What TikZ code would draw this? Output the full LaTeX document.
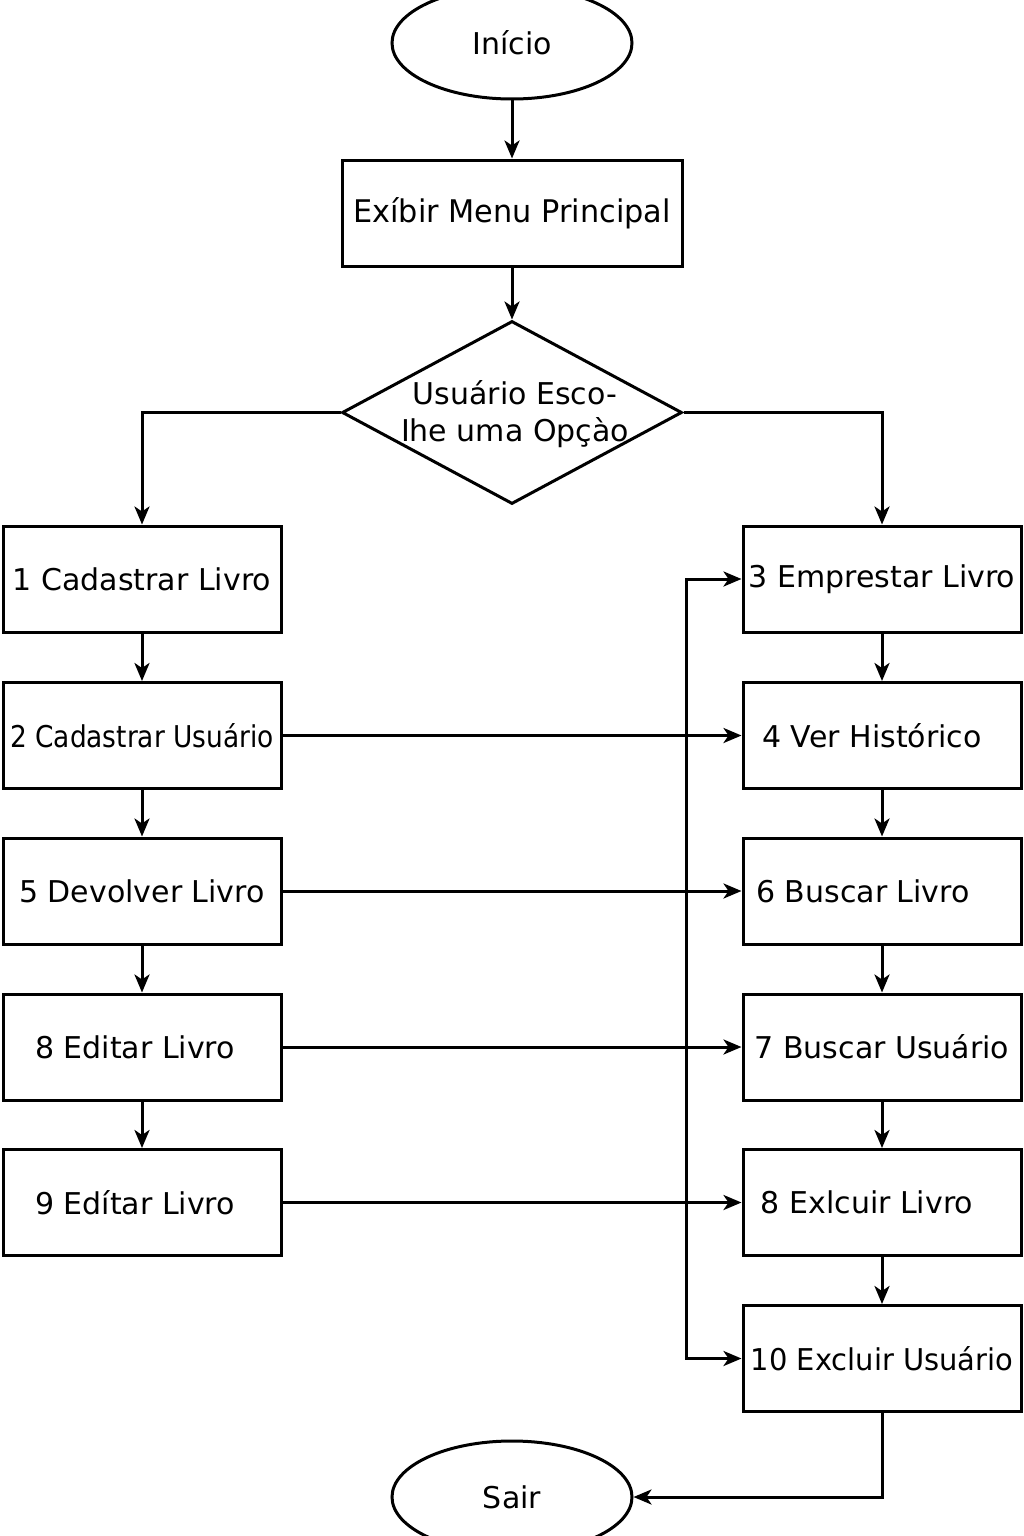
\documentclass[tikz,border=0pt]{standalone}
\usepackage{fontspec}
\setmainfont{DejaVu Sans}
\usetikzlibrary{shapes.geometric,arrows.meta}
\begin{document}
\begin{tikzpicture}[x=1pt,y=-1pt,
  every node/.style={font=\fontsize{30}{37}\selectfont},
  boxnode/.style={draw,line width=3pt,minimum width=278pt,minimum height=106pt,inner sep=0pt},
  endnode/.style={draw,ellipse,line width=3pt,minimum width=240pt,minimum height=112pt,inner sep=0pt},
  decnode/.style={draw,diamond,line width=3pt,minimum width=340pt,minimum height=183pt,inner sep=0pt},
  arr/.style={line width=3pt,-{Stealth[length=18pt,width=15pt,inset=5pt]}},
  arrb/.style={line width=3pt,{Stealth[length=18pt,width=15pt,inset=5pt]}-{Stealth[length=18pt,width=15pt,inset=5pt]}}]
\useasboundingbox (0,0) rectangle (1024,1536);
\node[endnode] (inicio) at (512,43) {Início};
\node[boxnode,minimum width=340pt] (menu) at (512,213) {\scalebox{1.01}[1.04]{Exíbir Menu Principal}};
\node[decnode] (dec) at (512,412.5) {};
\node[align=center,inner sep=0pt] (dectext) at (515,414) {Usuário Esco-\\Ihe uma Opçào};
% left column
\node[boxnode] (b1) at (142,579) {1 Cadastrar Livro};
\node[boxnode] (b2) at (142,735.5) {\scalebox{0.88}[1]{2 Cadastrar Usuário}};
\node[boxnode] (b5) at (142,891) {5 Devolver Livro};
\node[boxnode] (b8) at (142,1047) {8 Editar Livro\kern14pt};
\node[boxnode] (b9) at (142,1202.5) {9 Edítar Livro\kern14pt};
% right column
\node[boxnode] (b3) at (882,579) {3 Emprestar Livro};
\node[boxnode] (b4) at (882,735.5) {4 Ver Histórico\kern20pt};
\node[boxnode] (b6) at (882,891) {6 Buscar Livro\kern38pt};
\node[boxnode] (b7) at (882,1047) {7 Buscar Usuário};
\node[boxnode] (b8x) at (882,1202.5) {8 Exlcuir Livro\kern30pt};
\node[boxnode] (b10) at (882,1358.5) {\scalebox{0.965}[1]{10 Excluir Usuário}};
\node[endnode] (sair) at (512,1497) {Sair};
\coordinate (v1) at (686,579);
\coordinate (v2) at (686,1358.5);
% connectors
\draw[arr] (inicio.south) -- (menu.north);
\draw[arr] (menu.south) -- (dec.north);
\draw[arr] (dec.west) -| (b1.north);
\draw[arr] (dec.east) -| (b3.north);
\draw[arr] (b1) -- (b2);
\draw[arr] (b2) -- (b5);
\draw[arr] (b5) -- (b8);
\draw[arr] (b8) -- (b9);
\draw[arr] (b3) -- (b4);
\draw[arr] (b4) -- (b6);
\draw[arr] (b6) -- (b7);
\draw[arr] (b7) -- (b8x);
\draw[arr] (b8x) -- (b10);
\draw[arr] (b2.east) -- (b4.west);
\draw[arr] (b5.east) -- (b6.west);
\draw[arr] (b8.east) -- (b7.west);
\draw[arr] (b9.east) -- (b8x.west);
\draw[arrb] (b3.west) -- (v1) -- (v2) -- (b10.west);
\draw[arr] (b10.south) |- (sair.east);
\end{tikzpicture}
\end{document}
